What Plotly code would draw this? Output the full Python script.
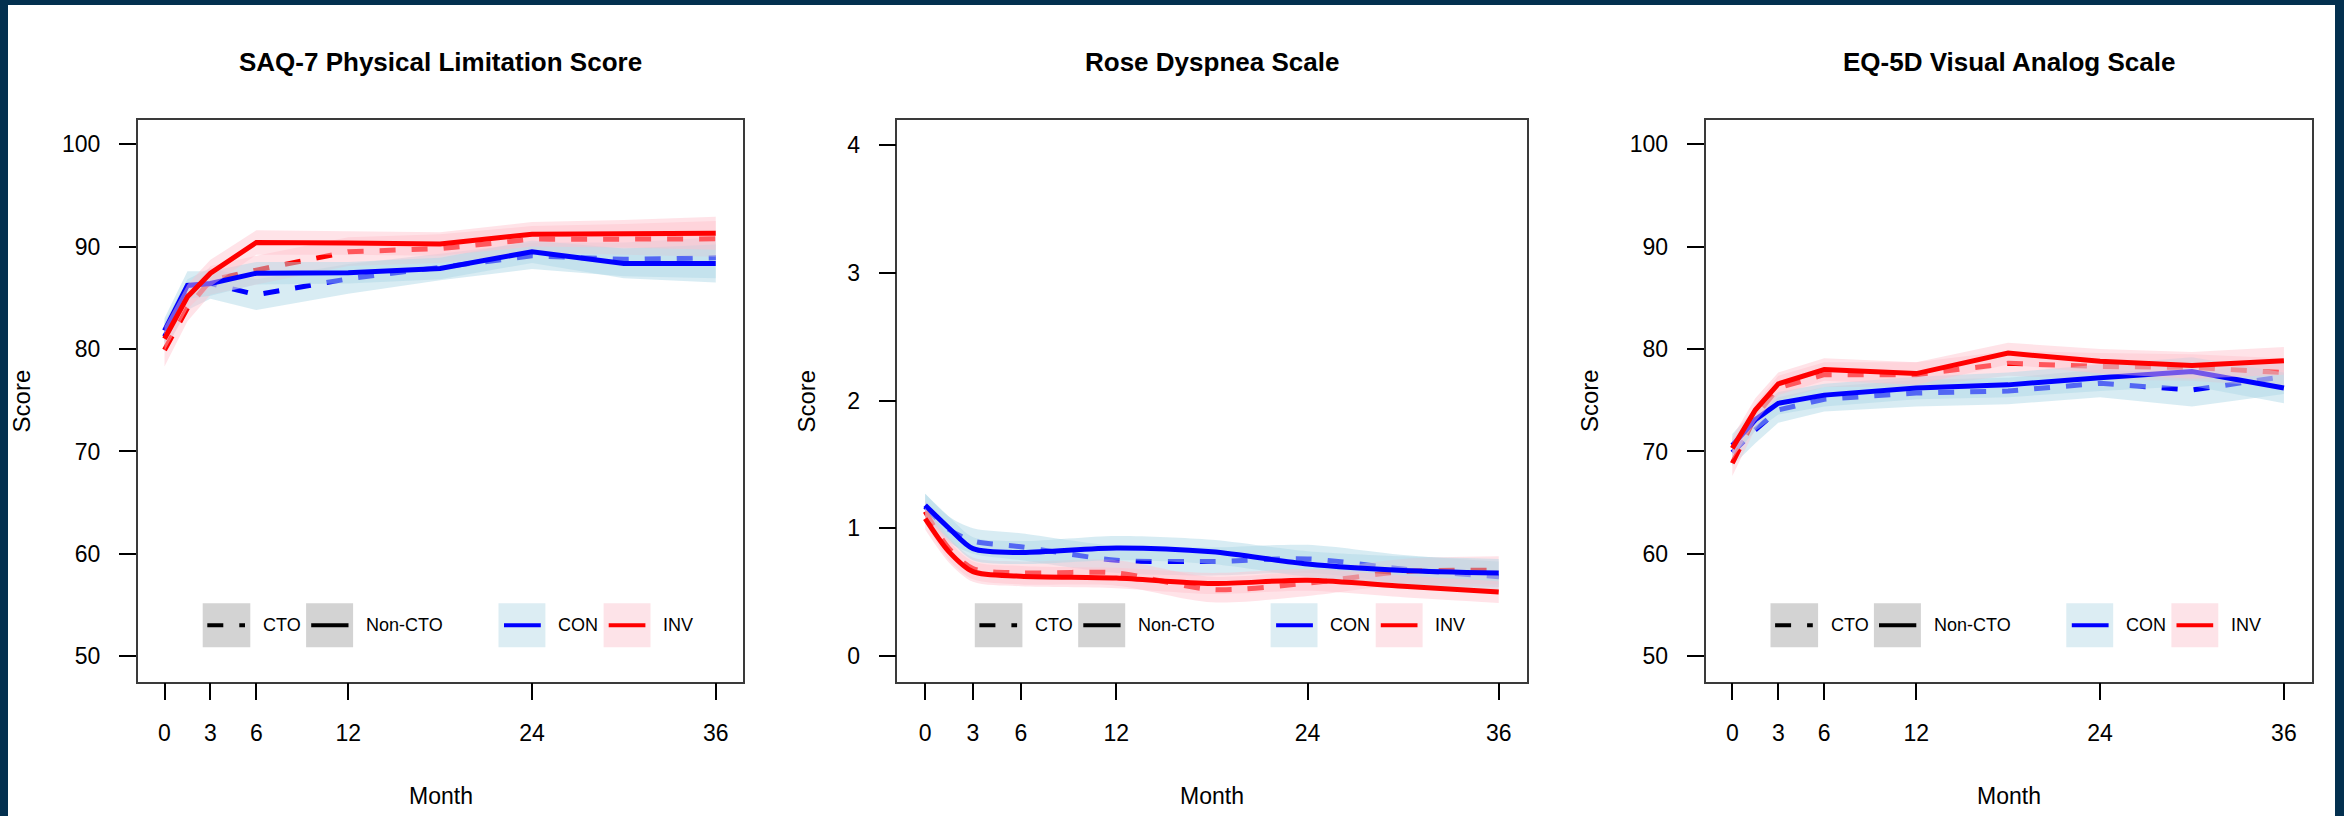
import plotly.graph_objects as go

# ---------------- data ----------------
months = [0, 1.5, 3, 6, 12, 18, 24, 30, 36]
x_tick_vals = [0, 3, 6, 12, 24, 36]
panel_titles = ["SAQ-7 Physical Limitation Score", "Rose Dyspnea Scale", "EQ-5D Visual Analog Scale"]
saq_y_ticks = [50, 60, 70, 80, 90, 100]
rose_y_ticks = [0, 1, 2, 3, 4]
eq_y_ticks = [50, 60, 70, 80, 90, 100]
legend_labels = ["CTO", "Non-CTO", "CON", "INV"]

# SAQ-7 Physical Limitation
saq_con_cto = [81.2, 85.3, 86.4, 85.3, 86.85, 88.0, 89.1, 88.75, 88.9]
saq_con_cto_lo = [79.8, 83.8, 84.9, 83.8, 85.4, 86.7, 87.8, 87.1, 86.9]
saq_con_cto_hi = [82.6, 86.8, 87.9, 86.8, 88.3, 89.3, 90.4, 90.4, 90.9]
saq_inv_cto = [79.9, 84.0, 86.7, 87.7, 89.5, 89.8, 90.7, 90.7, 90.75]
saq_inv_cto_lo = [78.3, 82.7, 85.3, 86.3, 88.1, 88.4, 89.4, 89.2, 89.0]
saq_inv_cto_hi = [81.5, 85.3, 88.1, 89.1, 90.9, 91.2, 92.0, 92.2, 92.5]
saq_con_noncto = [81.8, 86.2, 86.4, 87.4, 87.45, 87.85, 89.5, 88.35, 88.35]
saq_con_noncto_lo = [80.6, 84.9, 85.2, 86.3, 86.4, 86.8, 88.4, 86.9, 86.5]
saq_con_noncto_hi = [83.0, 87.6, 87.6, 88.5, 88.5, 88.9, 90.6, 89.8, 90.2]
saq_inv_noncto = [81.0, 85.1, 87.4, 90.4, 90.35, 90.25, 91.2, 91.25, 91.3]
saq_inv_noncto_lo = [79.8, 83.9, 86.1, 89.2, 89.2, 89.1, 90.0, 89.9, 89.7]
saq_inv_noncto_hi = [82.2, 86.3, 88.7, 91.6, 91.5, 91.4, 92.4, 92.6, 92.9]

# Rose Dyspnea Scale
rose_con_cto = [1.17, 0.99, 0.90, 0.855, 0.75, 0.74, 0.76, 0.68, 0.62]
rose_con_cto_lo = [1.07, 0.89, 0.80, 0.75, 0.65, 0.63, 0.65, 0.57, 0.50]
rose_con_cto_hi = [1.27, 1.09, 1.00, 0.96, 0.86, 0.85, 0.87, 0.79, 0.74]
rose_inv_cto = [1.13, 0.84, 0.685, 0.65, 0.65, 0.52, 0.57, 0.66, 0.67]
rose_inv_cto_lo = [1.04, 0.75, 0.60, 0.56, 0.55, 0.42, 0.47, 0.56, 0.56]
rose_inv_cto_hi = [1.22, 0.93, 0.77, 0.74, 0.75, 0.62, 0.67, 0.76, 0.78]
rose_con_noncto = [1.18, 1.00, 0.84, 0.81, 0.845, 0.815, 0.72, 0.67, 0.65]
rose_con_noncto_lo = [1.09, 0.91, 0.75, 0.72, 0.75, 0.72, 0.62, 0.56, 0.54]
rose_con_noncto_hi = [1.27, 1.09, 0.93, 0.90, 0.94, 0.91, 0.82, 0.78, 0.76]
rose_inv_noncto = [1.075, 0.815, 0.66, 0.625, 0.61, 0.567, 0.593, 0.546, 0.50]
rose_inv_noncto_lo = [0.99, 0.73, 0.58, 0.545, 0.53, 0.485, 0.51, 0.46, 0.415]
rose_inv_noncto_hi = [1.16, 0.90, 0.74, 0.705, 0.69, 0.65, 0.68, 0.63, 0.585]

# EQ-5D Visual Analog Scale
eq_con_cto = [69.9, 72.1, 74.05, 75.1, 75.7, 75.9, 76.65, 76.0, 77.3]
eq_con_cto_lo = [68.6, 70.8, 72.8, 73.9, 74.4, 74.6, 75.3, 74.4, 75.6]
eq_con_cto_hi = [71.2, 73.4, 75.3, 76.3, 77.0, 77.2, 78.0, 77.6, 79.0]
eq_inv_cto = [68.85, 73.4, 76.2, 77.5, 77.5, 78.6, 78.3, 78.2, 77.7]
eq_inv_cto_lo = [67.6, 72.2, 75.0, 76.3, 76.3, 77.4, 77.0, 76.9, 76.3]
eq_inv_cto_hi = [70.1, 74.6, 77.4, 78.7, 78.7, 79.8, 79.6, 79.5, 79.1]
eq_con_noncto = [70.6, 73.1, 74.7, 75.5, 76.2, 76.5, 77.2, 77.8, 76.2]
eq_con_noncto_lo = [69.5, 72.0, 73.6, 74.4, 75.1, 75.3, 75.9, 76.4, 74.7]
eq_con_noncto_hi = [71.7, 74.2, 75.8, 76.6, 77.3, 77.7, 78.5, 79.2, 77.7]
eq_inv_noncto = [70.3, 74.05, 76.6, 78.0, 77.6, 79.6, 78.8, 78.4, 78.85]
eq_inv_noncto_lo = [69.2, 72.9, 75.5, 76.9, 76.5, 78.5, 77.6, 77.1, 77.5]
eq_inv_noncto_hi = [71.4, 75.2, 77.7, 79.1, 78.7, 80.6, 80.0, 79.7, 80.2]

# ---------------- styling / layout ----------------
W, H = 2344, 816
BG = "#03304f"
FONT = "Liberation Sans, Arial, sans-serif"
BLUE, RED = "#0000FF", "#FF0000"
BLUE_FILL = "rgba(173,216,230,0.48)"
RED_FILL = "rgba(255,192,203,0.45)"
LINE_W = 5
DASH = "16px,16px"

panel_left = [137.7, 897.3, 1705.5]
panel_right = [743.3, 1527.4, 2311.5]
panel_top, panel_bottom = 119.5, 681.5
x_range = [-1.75, 37.8]
y_ranges = [[47.55, 102.4], [-0.2, 4.2], [47.55, 102.4]]
y_ticks = [saq_y_ticks, rose_y_ticks, eq_y_ticks]
legend_shift = [0.0, 12.5, 0.0]
score_title_x = [21.4, 805.5, 1589.0]

def fx(p):
    return p / W

def fy(p):
    return 1 - p / H

panels = [
    [(saq_con_cto, saq_con_cto_lo, saq_con_cto_hi, "CON", True),
     (saq_inv_cto, saq_inv_cto_lo, saq_inv_cto_hi, "INV", True),
     (saq_con_noncto, saq_con_noncto_lo, saq_con_noncto_hi, "CON", False),
     (saq_inv_noncto, saq_inv_noncto_lo, saq_inv_noncto_hi, "INV", False)],
    [(rose_con_cto, rose_con_cto_lo, rose_con_cto_hi, "CON", True),
     (rose_inv_cto, rose_inv_cto_lo, rose_inv_cto_hi, "INV", True),
     (rose_con_noncto, rose_con_noncto_lo, rose_con_noncto_hi, "CON", False),
     (rose_inv_noncto, rose_inv_noncto_lo, rose_inv_noncto_hi, "INV", False)],
    [(eq_con_cto, eq_con_cto_lo, eq_con_cto_hi, "CON", True),
     (eq_inv_cto, eq_inv_cto_lo, eq_inv_cto_hi, "INV", True),
     (eq_con_noncto, eq_con_noncto_lo, eq_con_noncto_hi, "CON", False),
     (eq_inv_noncto, eq_inv_noncto_lo, eq_inv_noncto_hi, "INV", False)],
]
line_shapes = ["linear", "spline", "linear"]

fig = go.Figure()
for i, series in enumerate(panels):
    xa = "x" if i == 0 else f"x{i+1}"
    ya = "y" if i == 0 else f"y{i+1}"
    shp = line_shapes[i]
    for mean, lo, hi, grp, cto in series:
        col = BLUE if grp == "CON" else RED
        fill = BLUE_FILL if grp == "CON" else RED_FILL
        fig.add_trace(go.Scatter(x=months, y=lo, xaxis=xa, yaxis=ya, mode="lines",
                                 line=dict(width=0, shape=shp, smoothing=0.8),
                                 showlegend=False, hoverinfo="skip"))
        fig.add_trace(go.Scatter(x=months, y=hi, xaxis=xa, yaxis=ya, mode="lines",
                                 line=dict(width=0, shape=shp, smoothing=0.8),
                                 fill="tonexty", fillcolor=fill,
                                 showlegend=False, hoverinfo="skip"))
        fig.add_trace(go.Scatter(x=months, y=mean, xaxis=xa, yaxis=ya, mode="lines",
                                 line=dict(color=col, width=LINE_W, shape=shp, smoothing=0.8,
                                           dash=DASH if cto else "solid"),
                                 showlegend=False))

layout = dict(
    width=W, height=H, margin=dict(l=0, r=0, t=0, b=0),
    paper_bgcolor=BG, plot_bgcolor="white", showlegend=False,
)
shapes = [dict(type="rect", xref="paper", yref="paper", x0=fx(8), x1=fx(2335), y0=0, y1=fy(5),
               fillcolor="white", line=dict(width=0), layer="below")]
annotations = []

for i in range(3):
    sfx = "" if i == 0 else str(i + 1)
    layout["xaxis" + sfx] = dict(
        domain=[fx(panel_left[i]), fx(panel_right[i])], anchor="y" + sfx,
        range=x_range, tickvals=x_tick_vals, ticks="outside", ticklen=17, tickwidth=2,
        tickcolor="black", showline=True, linecolor="#3a3a3a", linewidth=1.5, mirror=True,
        showgrid=False, zeroline=False, ticklabelstandoff=13,
        tickfont=dict(family=FONT, size=23, color="black"),
    )
    layout["yaxis" + sfx] = dict(
        domain=[fy(panel_bottom), fy(panel_top)], anchor="x" + sfx,
        range=y_ranges[i], tickvals=y_ticks[i], ticks="outside", ticklen=17, tickwidth=2,
        tickcolor="black", showline=True, linecolor="#3a3a3a", linewidth=1.5, mirror=True,
        showgrid=False, zeroline=False, ticklabelstandoff=14,
        tickfont=dict(family=FONT, size=23, color="black"),
    )
    cx = (panel_left[i] + panel_right[i]) / 2
    annotations.append(dict(text="<b>" + panel_titles[i] + "</b>", x=fx(cx), y=fy(62),
                            xref="paper", yref="paper", xanchor="center", yanchor="middle",
                            showarrow=False, font=dict(family=FONT, size=26, color="black")))
    annotations.append(dict(text="Month", x=fx(cx), y=fy(796), xref="paper", yref="paper",
                            xanchor="center", yanchor="middle", showarrow=False,
                            font=dict(family=FONT, size=23, color="black")))
    annotations.append(dict(text="Score", x=fx(score_title_x[i]), y=fy(401), xref="paper",
                            yref="paper", xanchor="center", yanchor="middle", textangle=-90,
                            showarrow=False, font=dict(family=FONT, size=24, color="black")))

    # in-plot legend
    base = panel_left[i] + legend_shift[i]
    boxes = [(65.0, 112.6, "#d3d3d3"), (168.4, 215.4, "#d3d3d3"),
             (360.8, 407.7, "#dcedf3"), (465.9, 512.8, "#fde3e8")]
    samples = [(69.6, 107.3, "black", DASH), (173.5, 210.8, "black", "solid"),
               (366.3, 403.1, BLUE, "solid"), (471.0, 507.7, RED, "solid")]
    text_x = [123.0, 226.1, 418.4, 523.5]
    ly0, ly1, lyc = 603.3, 647.3, 625.3
    for (b0, b1, bc), (s0, s1, sc, sd), tx, lab in zip(boxes, samples, text_x, legend_labels):
        shapes.append(dict(type="rect", xref="paper", yref="paper",
                           x0=fx(base + b0), x1=fx(base + b1), y0=fy(ly1), y1=fy(ly0),
                           fillcolor=bc, line=dict(width=0), layer="above"))
        shapes.append(dict(type="line", xref="paper", yref="paper",
                           x0=fx(base + s0), x1=fx(base + s1), y0=fy(lyc), y1=fy(lyc),
                           line=dict(color=sc, width=4, dash=sd), layer="above"))
        annotations.append(dict(text=lab, x=fx(base + tx), y=fy(lyc), xref="paper", yref="paper",
                                xanchor="left", yanchor="middle", showarrow=False,
                                font=dict(family=FONT, size=18, color="black")))

layout["shapes"] = shapes
layout["annotations"] = annotations
fig.update_layout(**layout)
fig.write_html("out.html", config={"displayModeBar": False},
               post_script="document.body.style.margin='0px';document.body.style.overflow='hidden';")
